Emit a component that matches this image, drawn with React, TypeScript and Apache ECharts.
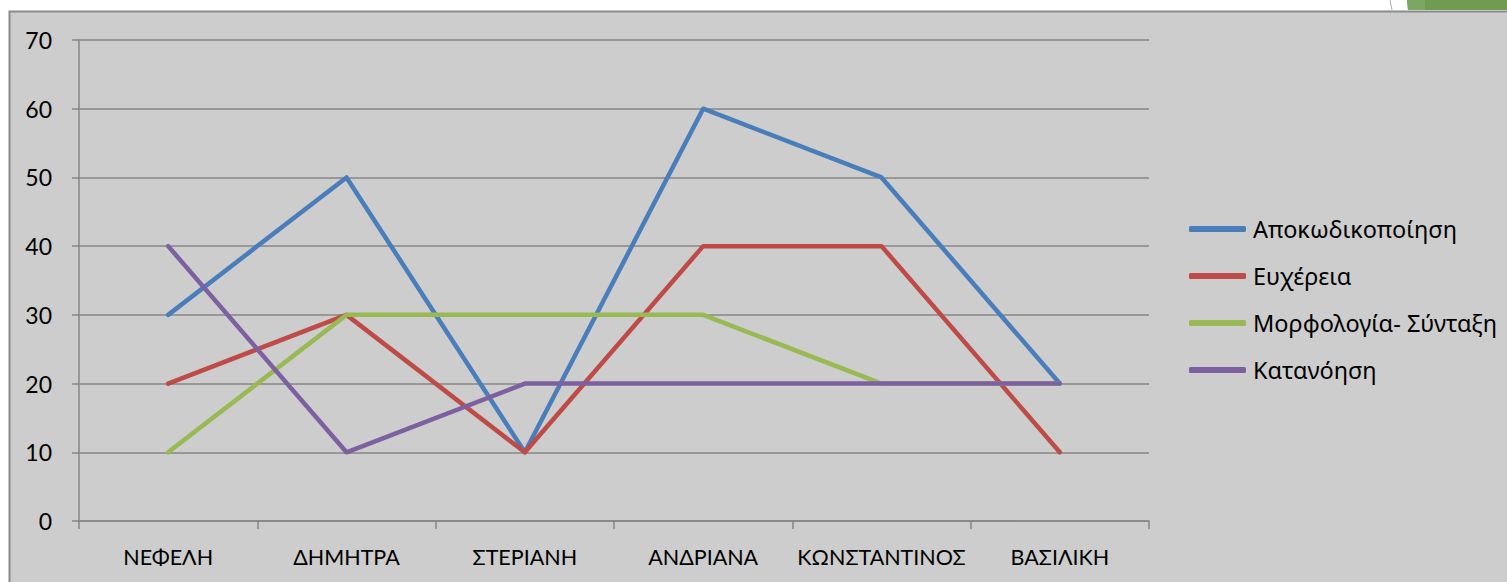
import React, { useEffect, useRef } from "react";
import * as echarts from "echarts";

const categories = ["ΝΕΦΕΛΗ", "ΔΗΜΗΤΡΑ", "ΣΤΕΡΙΑΝΗ", "ΑΝΔΡΙΑΝΑ", "ΚΩΝΣΤΑΝΤΙΝΟΣ", "ΒΑΣΙΛΙΚΗ"];
const seriesNames = ["Αποκωδικοποίηση", "Ευχέρεια", "Μορφολογία- Σύνταξη", "Κατανόηση"];
const apokodikopoiisi = [30, 50, 10, 60, 50, 20];
const eyxereia = [20, 30, 10, 40, 40, 10];
const morfologia = [10, 30, 30, 30, 20, 20];
const katanoisi = [40, 10, 20, 20, 20, 20];
const colors = ["#4A7EBB", "#BE4B48", "#98B954", "#7D60A0"];

const FONT = "Lato, 'Noto Sans', sans-serif";
const LEGEND_FONT = "'Noto Sans', Lato, sans-serif";

export default function App() {
  const ref = useRef<HTMLDivElement>(null);
  useEffect(() => {
    if (!ref.current) return;
    const chart = echarts.init(ref.current, null, { renderer: "svg" });
    const values = [apokodikopoiisi, eyxereia, morfologia, katanoisi];
    chart.setOption({
      animation: false,
      backgroundColor: "#ffffff",
      graphic: [
        {
          type: "rect",
          z: -10,
          shape: { x: 9.5, y: 11.5, width: 1510, height: 580 },
          style: { fill: "#cdcdcd", stroke: "#8a8a8a", lineWidth: 2 },
        },
        {
          type: "polygon",
          z: -10,
          shape: { points: [[1407, 0], [1507, 0], [1507, 10], [1408, 10]] },
          style: { fill: "#6f9c50" },
        },
        {
          type: "polygon",
          z: -9,
          shape: { points: [[1407, 0], [1425, 0], [1425, 10], [1408, 10]] },
          style: { fill: "#7aa863" },
        },
        {
          type: "line",
          z: -9,
          shape: { x1: 1390, y1: 0, x2: 1392, y2: 10 },
          style: { stroke: "#b0b0b0", lineWidth: 1 },
        },
      ],
      grid: { left: 79, right: 1507 - 1149, top: 40, bottom: 582 - 521, containLabel: false },
      legend: {
        orient: "vertical",
        left: 1189,
        top: 216,
        padding: 0,
        icon: "roundRect",
        itemWidth: 57,
        itemHeight: 6,
        itemGap: 21,
        textStyle: { fontFamily: LEGEND_FONT, fontSize: 23.5, color: "#000", lineHeight: 26, padding: [0, 0, 0, 2] },
        data: seriesNames,
      },
      xAxis: {
        type: "category",
        data: categories,
        boundaryGap: true,
        axisLine: { show: true, lineStyle: { color: "#868686", width: 1.5 } },
        axisTick: { show: true, interval: 0, length: 8, lineStyle: { color: "#868686", width: 1.5 } },
        axisLabel: { interval: 0, margin: 25, fontFamily: FONT, fontSize: 21.5, color: "#000" },
      },
      yAxis: {
        type: "value",
        min: 0,
        max: 70,
        interval: 10,
        axisLine: { show: true, lineStyle: { color: "#868686", width: 1.5 } },
        axisTick: { show: true, length: 7, lineStyle: { color: "#868686", width: 1.5 } },
        splitLine: { show: true, lineStyle: { color: "#868686", width: 1.5 } },
        axisLabel: { margin: 27, fontFamily: FONT, fontSize: 23, color: "#000" },
      },
      series: seriesNames.map((name, i) => ({
        name,
        type: "line",
        data: values[i],
        symbol: "none",
        color: colors[i],
        lineStyle: { color: colors[i], width: 4.5, cap: "round", join: "round" },
      })),
    });
    return () => chart.dispose();
  }, []);
  return (
    <div
      ref={ref}
      style={{ position: "fixed", left: 0, top: 0, width: 1507, height: 582 }}
    />
  );
}
